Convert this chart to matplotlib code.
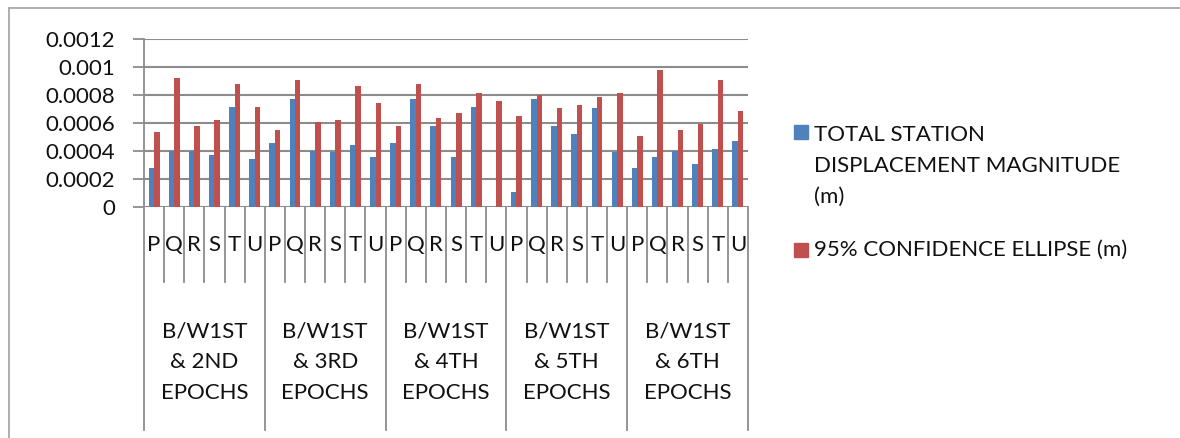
import numpy as np
import matplotlib.pyplot as plt
from matplotlib.patches import Rectangle
from matplotlib.lines import Line2D
import matplotlib.transforms as mtransforms

plt.rcParams['font.family'] = ['Lato', 'DejaVu Sans']

stations = ['P', 'Q', 'R', 'S', 'T', 'U']
groups = ['B/W1ST\n& 2ND\nEPOCHS', 'B/W1ST\n& 3RD\nEPOCHS', 'B/W1ST\n& 4TH\nEPOCHS',
          'B/W1ST\n& 5TH\nEPOCHS', 'B/W1ST\n& 6TH\nEPOCHS']

# total station displacement magnitude (m)
displacement = [0.000277, 0.000398, 0.000398, 0.000371, 0.000716, 0.000345,
                0.000455, 0.000771, 0.000398, 0.000390, 0.000441, 0.000359,
                0.000455, 0.000771, 0.000578, 0.000359, 0.000716, 0.0,
                0.000108, 0.000771, 0.000578, 0.000523, 0.000704, 0.000390,
                0.000277, 0.000359, 0.000398, 0.000304, 0.000414, 0.000470]
# 95% confidence ellipse (m)
ellipse = [0.000537, 0.000923, 0.000578, 0.000622, 0.000882, 0.000716,
           0.000552, 0.000908, 0.000605, 0.000622, 0.000867, 0.000745,
           0.000578, 0.000882, 0.000634, 0.000675, 0.000812, 0.000757,
           0.000648, 0.000800, 0.000704, 0.000730, 0.000783, 0.000812,
           0.000508, 0.000978, 0.000552, 0.000595, 0.000908, 0.000689]
yticks = [0, 0.0002, 0.0004, 0.0006, 0.0008, 0.001, 0.0012]
ylabels = ['0', '0.0002', '0.0004', '0.0006', '0.0008', '0.001', '0.0012']

blue = '#4F81BD'
red = '#C0504D'
grid = '#8C8C8C'
txt = '#111111'
fs = 16
W, H = 1180, 438

fig = plt.figure(figsize=(11.8, 4.38), dpi=100)
ax = fig.add_axes([144 / W, 1 - 207 / H, (748 - 144) / W, (207 - 39) / H])

n = len(displacement)
x = np.arange(n)
w = 0.27
ax.bar(x - w / 2, displacement, w, color=blue, zorder=3)
ax.bar(x + w / 2, ellipse, w, color=red, zorder=3)

ax.set_xlim(-0.5, n - 0.5)
ax.set_ylim(0, 0.0012)
ax.set_yticks(yticks)
ax.set_yticklabels(ylabels, fontsize=fs, color=txt)
ax.tick_params(axis='y', length=8, width=1.3, color=grid, pad=13)
ax.set_xticks([])
for s in ['top', 'right', 'bottom', 'left']:
    ax.spines[s].set_visible(False)
for v in yticks:
    ax.axhline(v, color=grid, lw=1.5, zorder=1)

# category axis lines
tr = mtransforms.blended_transform_factory(ax.transData, ax.transAxes)
for i in range(n + 1):
    xb = i - 0.5
    if i % 6 == 0:
        y0 = -223 / 168
    else:
        y0 = -75 / 168
    top = 1.0 if i == 0 else 0.0
    ax.add_line(Line2D([xb, xb], [y0, top], transform=tr, color=grid, lw=1.3, clip_on=False))

for i in range(n):
    ax.text(i, -38 / 168, stations[i % 6], transform=tr, ha='center', va='center',
            fontsize=fs, color=txt)
for g, lab in enumerate(groups):
    ax.text(g * 6 + 2.5, -155 / 168, lab, transform=tr, ha='center', va='center',
            fontsize=fs, color=txt, linespacing=1.68)

# legend
fig.patches.append(Rectangle((794 / W, 1 - 139 / H), 14 / W, 14 / H, color=blue,
                             transform=fig.transFigure))
fig.text(814 / W, 1 - 166 / H, 'TOTAL STATION\nDISPLACEMENT MAGNITUDE\n(m)', ha='left',
         va='center', fontsize=fs, color=txt, linespacing=1.7)
fig.patches.append(Rectangle((794 / W, 1 - 257 / H), 14 / W, 14 / H, color=red,
                             transform=fig.transFigure))
fig.text(814 / W, 1 - 250 / H, '95% CONFIDENCE ELLIPSE (m)', ha='left', va='center',
         fontsize=fs, color=txt)

# outer chart border
fig.add_artist(Line2D([9 / W, 1], [1 - 8 / H, 1 - 8 / H], transform=fig.transFigure,
                      color='#A8A8A8', lw=1.3))
fig.add_artist(Line2D([9 / W, 9 / W], [0, 1 - 8 / H], transform=fig.transFigure,
                      color='#A8A8A8', lw=1.3))

fig.savefig('out.png', dpi=100)
